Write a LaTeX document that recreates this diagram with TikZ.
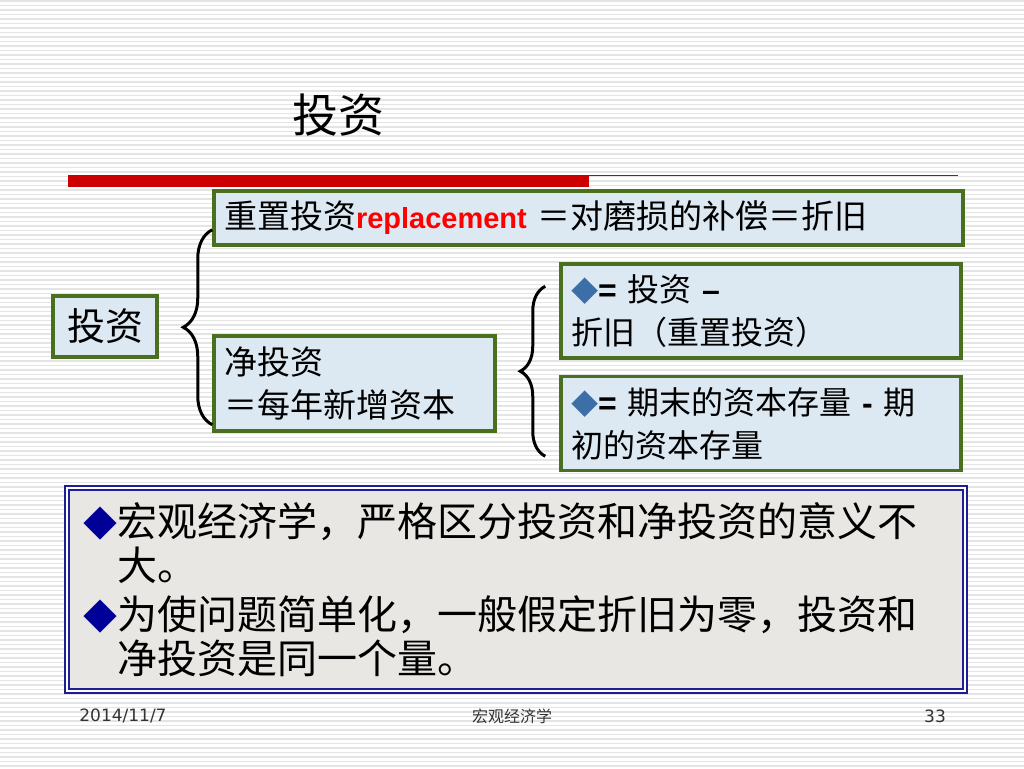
\documentclass[tikz,border=0pt]{standalone}
\usepackage{fontspec}
\setmainfont{Noto Sans CJK SC}
\newfontfamily\latin{Liberation Sans}
\newfontfamily\foot{DejaVu Sans}
\usepackage{tikz}
\usetikzlibrary{positioning,decorations.pathreplacing}
\definecolor{boxgreen}{HTML}{4A6F1E}
\definecolor{boxfill}{HTML}{DCE8F2}
\definecolor{noteblue}{HTML}{1E1E96}
\definecolor{notefill}{HTML}{E8E7E3}
\definecolor{diablue}{HTML}{3C6EA8}
\definecolor{dianavy}{HTML}{000099}
\definecolor{barred}{HTML}{CC0000}
\definecolor{stripe}{HTML}{E4E4E4}
\definecolor{footgray}{HTML}{333333}
\newcommand*{\diam}[1]{{\color{#1}\scalebox{0.85}{◆}}}
\tikzstyle{box} = [draw=boxgreen, line width=3.5pt, fill=boxfill, align=left, inner xsep=10pt, inner ysep=0pt]
\tikzstyle{note} = [draw=noteblue, double=white, double distance=2.5pt, line width=1.5pt, fill=notefill, align=left, inner xsep=16pt, inner ysep=0pt]
\tikzset{bracestyle/.style={draw, line width=3pt, decorate, decoration={brace, amplitude=#1}}}

\begin{document}
\begin{tikzpicture}[x=1pt, y=-1pt]
  \useasboundingbox (0,0) rectangle (1024,768);
  % background stripes
  \foreach \y in {1,5.5,...,768}
    \draw [stripe, line width=1.8pt] (0,\y) -- (1024,\y);

  \node [font=\fontsize{46}{50}\selectfont] (title) at (338,115) {投资};
  \fill [barred] (68,175) rectangle (589,187);
  \draw [barred, line width=1pt] (589,175.5) -- (958,175.5);

  \node [box, text width=729pt, minimum height=54pt, font=\fontsize{33}{43}\selectfont] (repl) at (588.5,218)
    {重置投资{\latin\bfseries\fontsize{29}{43}\selectfont\color{red}replacement} ＝对磨损的补偿＝折旧};
  \node [box, align=center, minimum width=104pt, minimum height=61pt, inner xsep=0pt, font=\fontsize{38}{42}\selectfont] (inv) at (105,326.5) {投资};
  \node [box, text width=261pt, minimum height=95pt, font=\fontsize{33}{43}\selectfont] (net) at (354.5,383.5)
    {净投资\\＝每年新增资本};
  \node [box, text width=380pt, minimum height=94pt, font=\fontsize{32}{43}\selectfont] (dep) at (761,311)
    {\diam{diablue}{\latin\bfseries =} 投资 {\latin\bfseries –}\\折旧（重置投资）};
  \node [box, text width=380pt, minimum height=94pt, below=15pt of dep, font=\fontsize{32}{43}\selectfont] (stock)
    {\diam{diablue}{\latin\bfseries =} 期末的资本存量 {\latin\bfseries -} 期\\初的资本存量};

  \node [note, text width=866pt, minimum height=203pt, font=\fontsize{40}{44}\selectfont] (sum) at (516,589.5)
    {\diam{dianavy}宏观经济学，严格区分投资和净投资的意义不\\\phantom{\diam{dianavy}}大。\\[5pt]
     \diam{dianavy}为使问题简单化，一般假定折旧为零，投资和\\\phantom{\diam{dianavy}}净投资是同一个量。};

  % braces
  \draw [bracestyle=29pt] ([yshift=8pt]net.south west) -- ([yshift=17pt]repl.south west);
  \draw [bracestyle=25pt] ([xshift=-14pt,yshift=16pt]stock.south west) -- ([xshift=-14pt,yshift=-24pt]dep.north west);

  % footer
  \node [font=\foot\fontsize{17}{20}\selectfont, text=footgray] (date) at (123,716) {2014/11/7};
  \node [font=\fontsize{16}{20}\selectfont, text=footgray] (course) at (512,716) {宏观经济学};
  \node [font=\foot\fontsize{17}{20}\selectfont, text=footgray] (page) at (935,716) {33};
\end{tikzpicture}
\end{document}
